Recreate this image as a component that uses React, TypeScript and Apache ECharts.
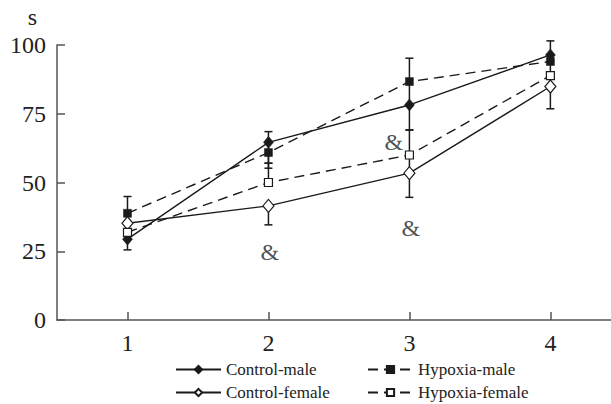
import React, { useEffect, useRef } from "react";
import * as echarts from "echarts";

const xValues = [1, 2, 3, 4];
const yTicks = [0, 25, 50, 75, 100];

const controlMale = [29.4, 64.6, 78.2, 96.4];
const hypoxiaMale = [38.8, 60.9, 86.7, 94.0];
const controlFemale = [35.2, 41.5, 53.4, 84.9];
const hypoxiaFemale = [31.9, 50.0, 60.0, 88.9];

// error bar end points (absolute values), null = not drawn
const controlMaleLow = [25.5, 57.0, 69.1, null];
const controlMaleHigh = [null, 68.5, null, 101.5];
const hypoxiaMaleLow = [null, 55.2, 78.2, null];
const hypoxiaMaleHigh = [44.9, null, 95.2, null];
const controlFemaleLow = [null, 34.6, 44.6, 76.8];
const controlFemaleHigh = [null, null, 60.0, null];
const hypoxiaFemaleLow = [null, null, null, null];
const hypoxiaFemaleHigh = [null, 57.0, 69.1, 94.0];

const ampX = [2.01, 2.89, 3.01];
const ampY = [24.7, 64.8, 33.5];

const FONT = "'Liberation Serif', 'Times New Roman', serif";

type Num = number | null;

function errorItems(vals: number[], lo: Num[], hi: Num[]) {
  const out: number[][] = [];
  xValues.forEach((x, i) => {
    const l = lo[i];
    const h = hi[i];
    if (l !== null) out.push([x, l, vals[i], 1, 0]);
    if (h !== null) out.push([x, vals[i], h, 0, 1]);
  });
  return out;
}

const errorData = [
  ...errorItems(controlMale, controlMaleLow, controlMaleHigh),
  ...errorItems(hypoxiaMale, hypoxiaMaleLow, hypoxiaMaleHigh),
  ...errorItems(controlFemale, controlFemaleLow, controlFemaleHigh),
  ...errorItems(hypoxiaFemale, hypoxiaFemaleLow, hypoxiaFemaleHigh),
];

export default function App() {
  const ref = useRef<HTMLDivElement>(null);
  useEffect(() => {
    document.body.style.margin = "0";
    if (!ref.current) return;
    const chart = echarts.init(ref.current, null, { renderer: "svg" });
    const black = "#1a1a1a";
    const axisColor = "#555";
    const legendCommon = {
      orient: "horizontal",
      itemWidth: 45,
      itemHeight: 9,
      padding: 0,
      selectedMode: false,
      textStyle: { fontFamily: FONT, fontSize: 17, color: "#222" },
    };
    const lineSeries = (name: string, vals: number[], symbol: string, size: any, filled: boolean, dashed: boolean) => ({
      type: "line",
      name,
      data: xValues.map((x, i) => [x, vals[i]]),
      symbol,
      symbolSize: size,
      showAllSymbol: true,
      z: 3,
      itemStyle: filled
        ? { color: black, borderColor: black, borderWidth: 0.5 }
        : { color: "#fff", borderColor: black, borderWidth: 1.2 },
      lineStyle: { color: black, width: 1.4, type: dashed ? [10, 6] : "solid" },
    });
    chart.setOption({
      animation: false,
      grid: { left: 57, right: 0, top: 45, bottom: 84, containLabel: false },
      xAxis: {
        type: "value",
        min: 0.5,
        max: 4.43,
        axisLine: { show: true, lineStyle: { color: axisColor, width: 1.5 } },
        axisTick: { show: true, inside: true, length: 8, customValues: xValues, lineStyle: { color: axisColor, width: 1.5 } },
        axisLabel: { customValues: xValues, fontFamily: FONT, fontSize: 24, color: "#222", margin: 11 },
        splitLine: { show: false },
      },
      yAxis: {
        type: "value",
        min: 0,
        max: 100,
        interval: 25,
        name: "s",
        nameLocation: "end",
        nameGap: 28,
        nameTextStyle: { fontFamily: FONT, fontSize: 24, color: "#222", align: "right", verticalAlign: "middle", padding: [0, 20, 0, 0] },
        axisLine: { show: true, lineStyle: { color: axisColor, width: 1.5 } },
        axisTick: { show: true, inside: true, length: 8, lineStyle: { color: axisColor, width: 1.5 } },
        axisLabel: {
          fontFamily: FONT,
          fontSize: 24,
          color: "#222",
          margin: 11,
          formatter: (v: number) => (yTicks.includes(v) ? String(v) : ""),
        },
        splitLine: { show: false },
      },
      legend: [
        { ...legendCommon, data: ["Control-male"], left: 175, top: 361 },
        { ...legendCommon, data: ["Hypoxia-male"], left: 367, top: 361 },
        { ...legendCommon, data: ["Control-female"], left: 175, top: 384 },
        { ...legendCommon, data: ["Hypoxia-female"], left: 367, top: 384 },
      ],
      series: [
        {
          type: "custom",
          name: "errors",
          z: 2,
          data: errorData,
          renderItem: (params: any, api: any) => {
            const x = api.value(0);
            const a = api.coord([x, api.value(1)]);
            const b = api.coord([x, api.value(2)]);
            const style = { stroke: black, lineWidth: 1.5 };
            const children: any[] = [
              { type: "line", shape: { x1: a[0], y1: a[1], x2: b[0], y2: b[1] }, style },
            ];
            if (api.value(3)) children.push({ type: "line", shape: { x1: a[0] - 4, y1: a[1], x2: a[0] + 4, y2: a[1] }, style });
            if (api.value(4)) children.push({ type: "line", shape: { x1: b[0] - 4, y1: b[1], x2: b[0] + 4, y2: b[1] }, style });
            return { type: "group", children };
          },
        },
        lineSeries("Control-male", controlMale, "diamond", [10, 12], true, false),
        lineSeries("Hypoxia-male", hypoxiaMale, "rect", 8, true, true),
        lineSeries("Control-female", controlFemale, "diamond", [11, 13], false, false),
        lineSeries("Hypoxia-female", hypoxiaFemale, "rect", 8, false, true),
        {
          type: "scatter",
          name: "amp",
          data: ampX.map((x, i) => [x, ampY[i]]),
          symbolSize: 1,
          itemStyle: { color: "rgba(0,0,0,0)" },
          z: 4,
          label: { show: true, position: "inside", formatter: "&", fontFamily: FONT, fontSize: 24, color: "#222" },
        },
      ],
    });
    return () => chart.dispose();
  }, []);
  return <div ref={ref} style={{ width: 611, height: 404 }} />;
}
